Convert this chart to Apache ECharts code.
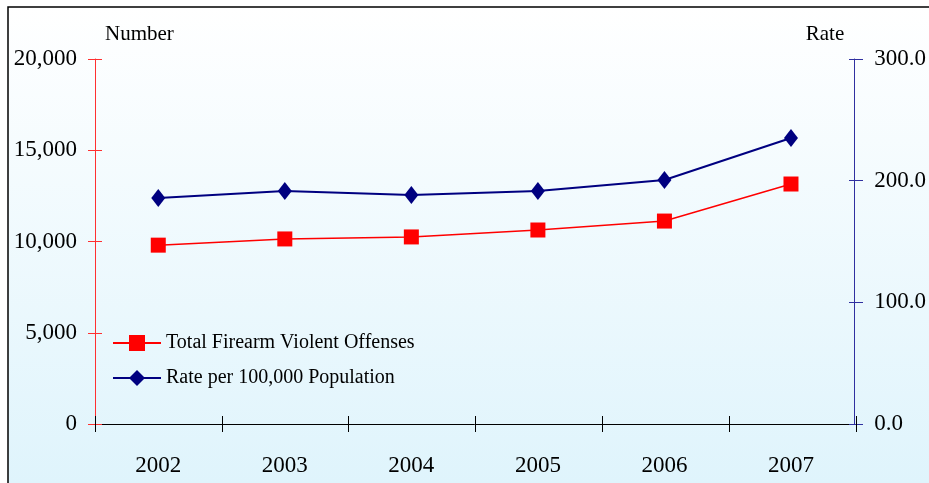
<!DOCTYPE html>
<html><head><meta charset="utf-8">
<script src="https://cdn.jsdelivr.net/npm/echarts@6/dist/echarts.min.js"></script>
<style>html,body{margin:0;padding:0;background:#fff}#c{width:929px;height:483px}</style>
</head><body><div id="c"></div>
<script>
const years = ['2002','2003','2004','2005','2006','2007'];
const offenses = [9800, 10140, 10250, 10630, 11120, 13150];
const rates = [185.8, 191.5, 188.2, 191.5, 200.5, 235.1];
const leftTicks = [0, 5000, 10000, 15000, 20000];
const rightTicks = [0, 100, 200, 300];

const font = '"Liberation Serif", "Times New Roman", serif';
const chart = echarts.init(document.getElementById('c'), null, {renderer: 'canvas'});
const grid = {left: 95, right: 73, top: 59, bottom: 59};
chart.setOption({
  animation: false,
  textStyle: {fontFamily: font},
  graphic: [{
    type: 'rect', z: -10, silent: true,
    shape: {x: 8, y: 7, width: 1000, height: 1000},
    style: {
      fill: new echarts.graphic.LinearGradient(0, 0, 0, 1, [
        {offset: 0, color: '#ffffff'}, {offset: 0.476, color: '#dff4fc'}, {offset: 1, color: '#dff4fc'}
      ]),
      stroke: '#000', lineWidth: 1.5
    }
  }],
  grid: [Object.assign({}, grid), Object.assign({}, grid)],
  legend: {
    orient: 'vertical', left: 112, top: 333, padding: 0, itemWidth: 48, itemHeight: 20, itemGap: 15,
    textStyle: {fontFamily: font, fontSize: 20, color: '#000', lineHeight: 20},
    data: ['Total Firearm Violent Offenses', 'Rate per 100,000 Population']
  },
  xAxis: [{
    type: 'category', data: years, gridIndex: 0, boundaryGap: true,
    axisLine: {show: true, lineStyle: {color: '#000', width: 1}},
    axisTick: {show: false},
    axisLabel: {fontFamily: font, fontSize: 23, color: '#000', margin: 30}
  }, {
    type: 'category', data: years, gridIndex: 1, boundaryGap: true, offset: 8, position: 'bottom',
    axisLine: {show: false, onZero: false},
    axisTick: {show: true, interval: 0, inside: true, length: 16, lineStyle: {color: '#000', width: 1}},
    axisLabel: {show: false}
  }],
  yAxis: [{
    type: 'value', gridIndex: 0, min: leftTicks[0], max: leftTicks[leftTicks.length-1], interval: 5000,
    name: 'Number', nameLocation: 'end', nameGap: 14,
    nameTextStyle: {fontFamily: font, fontSize: 21, color: '#000', align: 'left', padding: [0,0,0,10]},
    axisLine: {show: true, lineStyle: {color: '#ff3030', width: 1}},
    axisTick: {show: false},
    splitLine: {show: false},
    axisLabel: {fontFamily: font, fontSize: 23, color: '#000', margin: 18,
      formatter: v => v.toLocaleString('en-US')}
  }, {
    type: 'value', gridIndex: 0, min: rightTicks[0], max: rightTicks[rightTicks.length-1], interval: 100, position: 'right',
    name: 'Rate', nameLocation: 'end', nameGap: 14,
    nameTextStyle: {fontFamily: font, fontSize: 21, color: '#000', align: 'right', padding: [0,10,0,0]},
    axisLine: {show: true, lineStyle: {color: '#3030a0', width: 1}},
    axisTick: {show: false},
    splitLine: {show: false},
    axisLabel: {fontFamily: font, fontSize: 23, color: '#000', margin: 20,
      formatter: v => v.toFixed(1)}
  }, {
    type: 'value', gridIndex: 1, min: 0, max: 20000, interval: 5000, position: 'left', offset: 7,
    axisLine: {show: false, onZero: false}, axisLabel: {show: false}, splitLine: {show: false},
    axisTick: {show: true, inside: true, length: 14, lineStyle: {color: '#ff3030'}}
  }, {
    type: 'value', gridIndex: 1, min: 0, max: 300, interval: 100, position: 'right', offset: 7,
    axisLine: {show: false, onZero: false}, axisLabel: {show: false}, splitLine: {show: false},
    axisTick: {show: true, inside: true, length: 14, lineStyle: {color: '#3030a0'}}
  }],
  series: [{
    name: 'Total Firearm Violent Offenses', type: 'line', data: offenses,
    xAxisIndex: 0, yAxisIndex: 0,
    symbol: 'rect', symbolSize: 15,
    lineStyle: {color: '#ff0000', width: 1.5},
    itemStyle: {color: '#ff0000'}
  }, {
    name: 'Rate per 100,000 Population', type: 'line', data: rates,
    xAxisIndex: 0, yAxisIndex: 1,
    symbol: 'diamond', symbolSize: [14, 18],
    lineStyle: {color: '#000080', width: 2},
    itemStyle: {color: '#000080'}
  }, {
    name: 'h1', type: 'line', data: [], xAxisIndex: 1, yAxisIndex: 2, silent: true, showSymbol: false
  }, {
    name: 'h2', type: 'line', data: [], xAxisIndex: 1, yAxisIndex: 3, silent: true, showSymbol: false
  }]
});
</script></body></html>
